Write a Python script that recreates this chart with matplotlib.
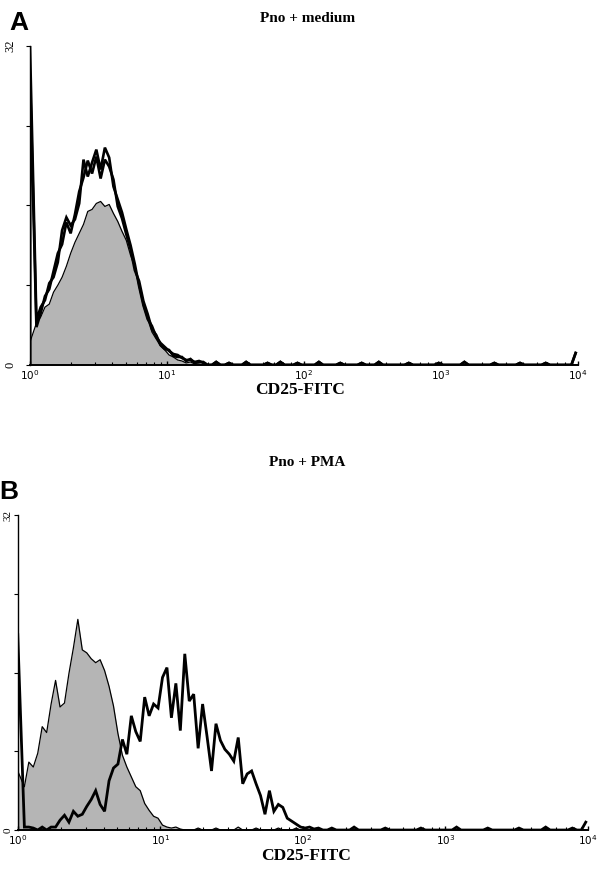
import numpy as np
import matplotlib
matplotlib.use("Agg")
import matplotlib.pyplot as plt

# flow histograms, 32 channels per decade over 10^0..10^4 (128 channels)
CH_PER_DECADE = 32
N_CH = 128

# panel A: Pno + medium
a_ctrl = [2.3, 4.2, 4.8, 5.8, 6.1, 7.3, 8.0, 8.8, 9.9, 11.2, 12.3, 13.2, 14.1, 15.4,
          15.6, 16.2, 16.4, 15.9, 16.1, 15.2, 14.4, 13.4, 12.5, 11.0, 9.8, 7.8, 5.9,
          4.6, 3.3, 2.6, 1.9, 1.5, 1.0, 0.8, 0.5, 0.4, 0.2, 0.3, 0.1, 0.1]
a_cd25_1 = [32.0, 4.5, 5.8, 6.5, 8.2, 8.8, 10.3, 13.5, 14.8, 14.0, 14.6, 16.2, 20.6,
            18.9, 20.3, 21.6, 19.6, 21.8, 20.8, 17.9, 16.6, 15.3, 13.6, 12.0, 10.1,
            7.9, 6.0, 4.6, 3.9, 2.8, 2.2, 1.8, 1.4, 1.1, 1.0, 0.7, 0.5, 0.5, 0.3, 0.4, 0.2]
a_cd25_2 = [29.0, 3.8, 5.2, 6.9, 7.6, 9.4, 11.2, 12.1, 14.3, 13.2, 15.1, 17.4, 18.8,
            20.5, 19.2, 20.9, 18.7, 20.6, 19.9, 18.6, 15.9, 14.7, 13.1, 11.6, 9.5,
            8.4, 6.4, 5.1, 3.6, 3.0, 2.0, 1.6, 1.5, 0.9, 0.8, 0.8, 0.4, 0.6, 0.2, 0.3, 0.3]
a_tail_ch = [43, 46, 50, 55, 58, 62, 67, 72, 77, 81, 88, 95, 101, 108, 114, 120, 127]
a_tail_ct = [0.3, 0.2, 0.3, 0.2, 0.3, 0.2, 0.3, 0.2, 0.2, 0.3, 0.2, 0.2, 0.3, 0.2, 0.2, 0.2, 1.2]

# panel B: Pno + PMA
b_ctrl = [6.0, 4.4, 6.9, 6.4, 7.8, 10.5, 9.9, 12.8, 15.2, 12.5, 12.9, 15.9, 18.5, 21.4,
          18.3, 18.0, 17.4, 17.0, 17.3, 16.2, 14.6, 12.6, 9.8, 7.6, 6.4, 5.4, 4.4, 4.0,
          2.7, 2.0, 1.4, 1.2, 0.5, 0.3, 0.2, 0.3, 0.1]
b_ctrl_tail_ch = [40, 44, 49, 53, 58, 62]
b_ctrl_tail_ct = [0.2, 0.2, 0.3, 0.2, 0.2, 0.2]
b_cd25 = [20.0, 0.3, 0.3, 0.2, 0.0, 0.3, 0.0, 0.3, 0.3, 1.0, 1.5, 0.8, 1.9, 1.4, 1.6,
          2.4, 3.1, 4.0, 2.6, 1.9, 5.0, 6.3, 6.7, 9.2, 7.7, 11.6, 10.0, 9.0, 13.5, 11.6,
          12.8, 12.4, 15.5, 16.5, 11.4, 14.9, 10.1, 17.9, 13.1, 13.8, 8.3, 12.8, 9.5,
          6.0, 10.8, 9.1, 8.2, 7.7, 7.0, 9.4, 4.7, 5.7, 6.0, 4.7, 3.5, 1.6, 4.0, 1.9,
          2.6, 2.3, 1.2, 0.9, 0.6, 0.3, 0.2, 0.3, 0.1, 0.2]
b_tail_ch = [70, 75, 82, 90, 98, 105, 112, 118, 124, 127]
b_tail_ct = [0.2, 0.3, 0.2, 0.2, 0.3, 0.2, 0.2, 0.3, 0.2, 0.8]

x_ticks = [1, 10, 100, 1000, 10000]
x_ticklabels = [r"$10^{0}$", r"$10^{1}$", r"$10^{2}$", r"$10^{3}$", r"$10^{4}$"]
y_ticks = [0, 8, 16, 24, 32]
y_ticklabels = ["0", "", "", "", "32"]

GREY = "#b5b5b5"
SERIF = ["Liberation Serif", "DejaVu Serif"]
SANS = ["Liberation Sans", "DejaVu Sans"]


def full(main, tail_ch=None, tail_ct=None):
    counts = np.zeros(N_CH)
    counts[:len(main)] = main
    if tail_ch is not None:
        counts[tail_ch] = tail_ct
    return counts


def trace(counts):
    # channel centres; first channel pinned to the axis start (10^0)
    x = 10 ** ((np.arange(N_CH) + 0.5) / CH_PER_DECADE)
    x[0] = 1.0
    x = np.concatenate([[1.0], x])
    y = np.concatenate([[0.0], counts])
    return x, y


def style_axis(ax, ypad, ylabsize):
    ax.set_xscale("log")
    ax.set_xlim(1, 10000)
    ax.set_ylim(0, 32)
    for side in ("top", "right"):
        ax.spines[side].set_visible(False)
    ax.spines["left"].set_linewidth(1.0)
    ax.spines["bottom"].set_linewidth(1.4)
    ax.set_xticks(x_ticks)
    ax.set_xticklabels(x_ticklabels, fontsize=7.5)
    ax.set_yticks(y_ticks)
    ax.set_yticklabels(y_ticklabels, fontsize=ylabsize, rotation=90, va="center",
                       family=SERIF)
    ax.tick_params(axis="x", which="major", direction="in", length=3, width=1, pad=2)
    ax.tick_params(axis="x", which="minor", direction="in", length=2, width=0.8)
    ax.tick_params(axis="y", direction="out", length=3, width=0.8, pad=ypad)
    ax.patch.set_alpha(0)


fig = plt.figure(figsize=(6, 8.75), dpi=100)

ax_a = fig.add_axes([0.05, 0.5829, 0.913, 0.3646])
x, y = trace(full(a_ctrl))
ax_a.fill_between(x, y, color=GREY, lw=0)
ax_a.plot(x, y, color="black", lw=0.9)
x, y = trace(full(a_cd25_2, a_tail_ch, a_tail_ct))
ax_a.plot(x, y, color="black", lw=1.9, solid_joinstyle="miter")
x, y = trace(full(a_cd25_1, a_tail_ch, a_tail_ct))
ax_a.plot(x, y, color="black", lw=1.9, solid_joinstyle="miter")
style_axis(ax_a, 7, 9)

ax_b = fig.add_axes([0.0295, 0.0514, 0.9505, 0.36])
x, y = trace(full(b_ctrl, b_ctrl_tail_ch, b_ctrl_tail_ct))
ax_b.fill_between(x, y, color=GREY, lw=0)
ax_b.plot(x, y, color="black", lw=0.9)
x, y = trace(full(b_cd25, b_tail_ch, b_tail_ct))
ax_b.plot(x, y, color="black", lw=2.0, solid_joinstyle="miter")
style_axis(ax_b, 0.5, 8)

# titles, axis labels and panel letters
fig.text(0.513, 1 - 18 / 875, "Pno + medium", ha="center", va="center",
         family=SERIF, weight="bold", fontsize=11)
fig.text(0.512, 1 - 463 / 875, "Pno + PMA", ha="center", va="center",
         family=SERIF, weight="bold", fontsize=11)
fig.text(0.5, 1 - 390 / 875, "CD25-FITC", ha="center", va="center",
         family=SERIF, weight="bold", fontsize=12.5)
fig.text(0.51, 1 - 856 / 875, "CD25-FITC", ha="center", va="center",
         family=SERIF, weight="bold", fontsize=12.5)
fig.text(19 / 600, 1 - 23 / 875, "A", ha="center", va="center",
         family=SANS, weight="bold", fontsize=19)
fig.text(9 / 600, 1 - 492 / 875, "B", ha="center", va="center",
         family=SANS, weight="bold", fontsize=19)

fig.savefig("out.png", dpi=100, facecolor="white")
